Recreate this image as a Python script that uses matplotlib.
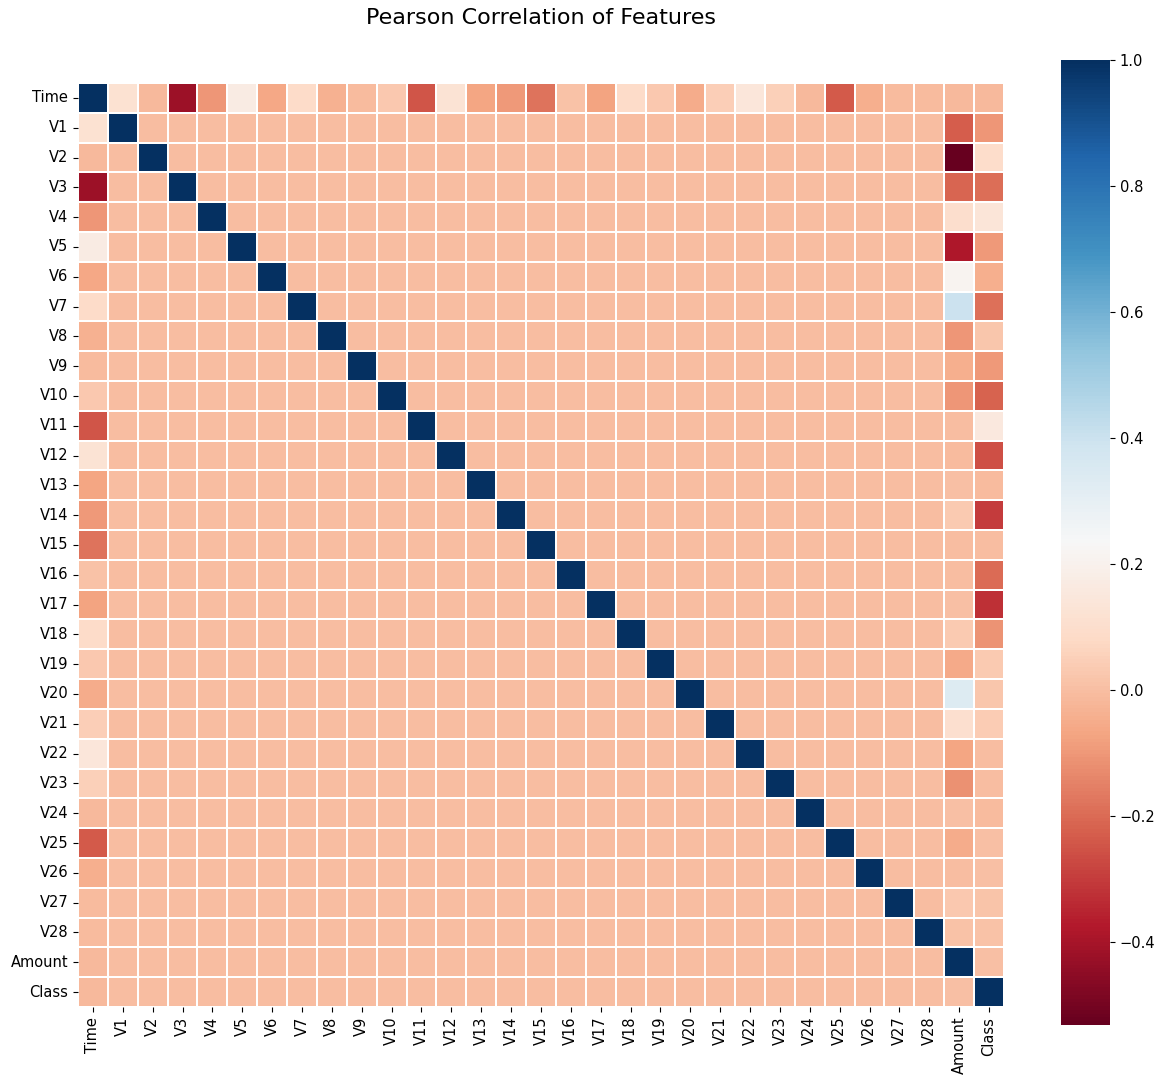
import numpy as np
import matplotlib
matplotlib.use("Agg")
import matplotlib.pyplot as plt
import seaborn as sns

features = ["Time"] + ["V%d" % i for i in range(1, 29)] + ["Amount", "Class"]

# Correlation of Time with V1..V28
time_corr = [0.117, -0.011, -0.420, -0.105, 0.173, -0.063, 0.085, -0.037, -0.009, 0.031,
             -0.248, 0.124, -0.066, -0.099, -0.184, 0.012, -0.073, 0.090, 0.029, -0.051,
             0.045, 0.144, 0.051, -0.016, -0.233, -0.041, -0.005, -0.009]
# Correlation of Amount with V1..V28
amount_corr = [-0.228, -0.531, -0.211, 0.099, -0.386, 0.216, 0.397, -0.103, -0.044, -0.102,
               0.000, -0.010, 0.005, 0.034, -0.003, -0.004, 0.007, 0.036, -0.056, 0.339,
               0.106, -0.065, -0.113, 0.005, -0.048, -0.003, 0.029, 0.010]
# Correlation of Class with V1..V28
class_corr = [-0.101, 0.091, -0.193, 0.133, -0.095, -0.044, -0.187, 0.020, -0.098, -0.217,
              0.155, -0.261, -0.005, -0.303, -0.004, -0.197, -0.326, -0.111, 0.035, 0.020,
              0.040, 0.001, -0.003, -0.007, 0.003, 0.005, 0.018, 0.010]
time_amount = -0.011
time_class = -0.012
amount_class = 0.006

# Build the full symmetric matrix (PCA components are uncorrelated with each other)
n = len(features)
corr = np.eye(n)
corr[0, 1:29] = time_corr
corr[29, 1:29] = amount_corr
corr[30, 1:29] = class_corr
corr[0, 29] = time_amount
corr[0, 30] = time_class
corr[29, 30] = amount_class
corr = np.triu(corr) + np.triu(corr, 1).T
corr[1:29, 29] = amount_corr
corr[1:29, 30] = class_corr
corr[1:29, 0] = time_corr

fig = plt.figure(figsize=(11.64, 10.75), dpi=100)
ax = fig.add_axes([0.067, 0.0633, 0.7955, 0.8595])
cax = fig.add_axes([0.9115, 0.0465, 0.0421, 0.8975])

sns.heatmap(corr, ax=ax, cbar_ax=cax, cmap="RdBu", vmax=1.0,
            linewidths=0.1, linecolor="white", square=False,
            xticklabels=features, yticklabels=features)

ax.tick_params(axis="both", labelsize=10.5)
ax.set_xticklabels(features, rotation=90)
ax.set_yticklabels(features, rotation=0)
cax.tick_params(labelsize=10.5)

# title centred over the heatmap
fig.text(0.465, 0.983, "Pearson Correlation of Features", ha="center", va="center", fontsize=16)

fig.savefig("out.png", dpi=100)
